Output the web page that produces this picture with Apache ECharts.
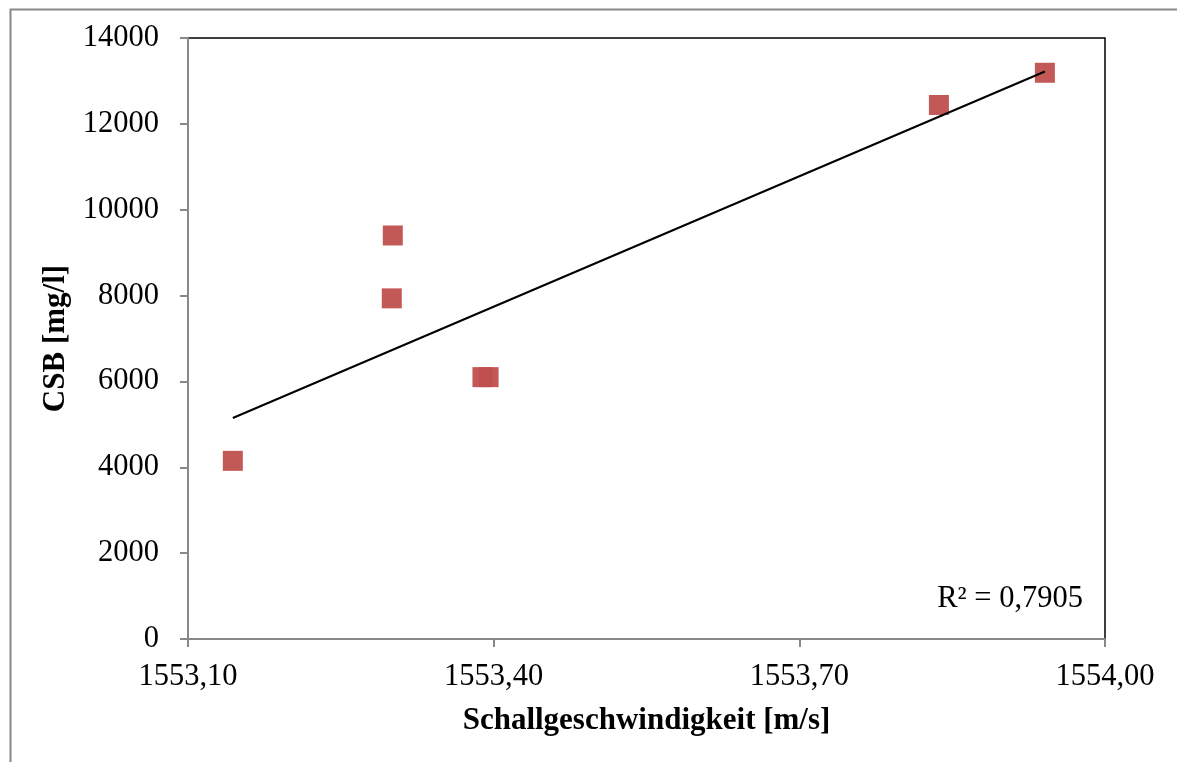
<!DOCTYPE html>
<html>
<head>
<meta charset="utf-8">
<script src="https://cdn.jsdelivr.net/npm/echarts@6/dist/echarts.min.js"></script>
<style>html,body{margin:0;padding:0;background:#fff}#c{width:1177px;height:762px}</style>
</head>
<body>
<div id="c"></div>
<script>
// Data
const speed = [1553.144, 1553.300, 1553.301, 1553.389, 1553.395, 1553.837, 1553.941];
const csb   = [4150, 7935, 9400, 6100, 6100, 12440, 13190];
const xTicks = [1553.1, 1553.4, 1553.7, 1554.0];
const yTicks = [0, 2000, 4000, 6000, 8000, 10000, 12000, 14000];
const r2Label = 'R² = 0,7905';
const xName = 'Schallgeschwindigkeit [m/s]';
const yName = 'CSB [mg/l]';

// linear regression (trendline) computed from the data
const n = speed.length;
const mx = speed.reduce((a,b)=>a+b,0)/n;
const my = csb.reduce((a,b)=>a+b,0)/n;
let sxy=0, sxx=0;
for (let i=0;i<n;i++){ sxy += (speed[i]-mx)*(csb[i]-my); sxx += (speed[i]-mx)*(speed[i]-mx); }
const slope = sxy/sxx, icpt = my - slope*mx;
const xmin = Math.min(...speed), xmax = Math.max(...speed);
const trend = [[xmin, icpt+slope*xmin],[xmax, icpt+slope*xmax]];

const FONT = "'Liberation Serif','DejaVu Serif',serif";
const chart = echarts.init(document.getElementById('c'));
chart.setOption({
  backgroundColor:'#fff',
  animation:false,
  grid:{left:188, right:72, top:38, bottom:123, show:true, borderColor:'#000', borderWidth:1.5, backgroundColor:'transparent'},
  xAxis:{
    type:'value', min:xTicks[0], max:xTicks[xTicks.length-1], interval:0.3,
    name:xName, nameLocation:'middle', nameGap:66,
    nameTextStyle:{fontFamily:FONT, fontSize:31, fontWeight:'bold', color:'#000'},
    axisLine:{show:true, onZero:false, lineStyle:{color:'#888', width:2}},
    axisTick:{show:true, length:8, inside:false, lineStyle:{color:'#888', width:2}},
    axisLabel:{fontFamily:FONT, fontSize:30.5, color:'#000', margin:22,
      formatter:v=>v.toFixed(2).replace('.', ',')},
    splitLine:{show:false}
  },
  yAxis:{
    type:'value', min:yTicks[0], max:yTicks[yTicks.length-1], interval:2000,
    name:yName, nameLocation:'middle', nameGap:114, nameRotate:90,
    nameTextStyle:{fontFamily:FONT, fontSize:31, fontWeight:'bold', color:'#000'},
    axisLine:{show:true, lineStyle:{color:'#888', width:2}},
    axisTick:{show:true, length:8, lineStyle:{color:'#888', width:2}},
    axisLabel:{fontFamily:FONT, fontSize:30.5, color:'#000', margin:29,
      formatter:v=>String(v)},
    splitLine:{show:false}
  },
  graphic:[
    {type:'rect', left:8, top:7, shape:{x:0,y:0,width:1300,height:900}, style:{fill:'none', stroke:'#888', lineWidth:2}, silent:true, z:-1},
    {type:'text', right:94, top:583, style:{text:r2Label, font:"30.5px "+FONT, fill:'#000'}}
  ],
  series:[
    {type:'line', data:trend, symbol:'none', lineStyle:{color:'#000', width:2}, z:3},
    {type:'scatter', data:speed.map((x,i)=>[x,csb[i]]), symbol:'rect', symbolSize:20,
     itemStyle:{color:'#C0504D', opacity:0.95}, z:2}
  ]
});
</script>
</body>
</html>
